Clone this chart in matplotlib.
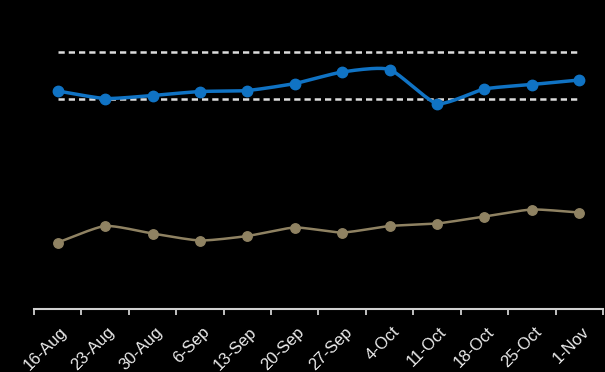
import numpy as np
import matplotlib
matplotlib.use("Agg")
import matplotlib.pyplot as plt
from matplotlib import transforms

# weekly readings
dates = ["16-Aug", "23-Aug", "30-Aug", "6-Sep", "13-Sep", "20-Sep",
         "27-Sep", "4-Oct", "11-Oct", "18-Oct", "25-Oct", "1-Nov"]
blue_vals = [4.36, 4.21, 4.27, 4.35, 4.37, 4.51, 4.74, 4.79, 4.11, 4.40, 4.49, 4.58]
tan_vals = [1.33, 1.66, 1.51, 1.37, 1.46, 1.63, 1.53, 1.66, 1.71, 1.85, 1.99, 1.93]
upper_band = [5.14] * len(dates)
lower_band = [4.21] * len(dates)

BLUE = "#1073c4"
TAN = "#8f8262"


def smooth(xs, ys, n=20, k=0.3):
    # cardinal spline through the points, mild tension like Excel smoothing
    xs = np.asarray(xs, float)
    ys = np.asarray(ys, float)
    px = np.concatenate([[2 * xs[0] - xs[1]], xs, [2 * xs[-1] - xs[-2]]])
    py = np.concatenate([[2 * ys[0] - ys[1]], ys, [2 * ys[-1] - ys[-2]]])
    t = np.linspace(0, 1, n, endpoint=False)
    h00 = 2 * t ** 3 - 3 * t ** 2 + 1
    h10 = t ** 3 - 2 * t ** 2 + t
    h01 = -2 * t ** 3 + 3 * t ** 2
    h11 = t ** 3 - t ** 2
    outx, outy = [], []
    for i in range(1, len(px) - 2):
        for p, out in ((px, outx), (py, outy)):
            m1 = k * (p[i + 1] - p[i - 1])
            m2 = k * (p[i + 2] - p[i])
            out.extend(h00 * p[i] + h10 * m1 + h01 * p[i + 1] + h11 * m2)
    outx.append(xs[-1])
    outy.append(ys[-1])
    return outx, outy


fig = plt.figure(figsize=(6.05, 3.72), dpi=100, facecolor="black")
ax = fig.add_axes([34 / 605, 63 / 372, 569 / 605, 289 / 372], facecolor="black")

x = np.arange(len(dates))

ax.plot(x, upper_band, color="#dcdcdc", lw=1.8, ls=(0, (2.5, 1.6)))
ax.plot(x, lower_band, color="#dcdcdc", lw=1.8, ls=(0, (2.5, 1.6)))

sx, sy = smooth(x, blue_vals)
ax.plot(sx, sy, color=BLUE, lw=2.5, solid_capstyle="round")
ax.plot(x, blue_vals, "o", color=BLUE, ms=7.5)

sx, sy = smooth(x, tan_vals)
ax.plot(sx, sy, color=TAN, lw=1.8, solid_capstyle="round")
ax.plot(x, tan_vals, "o", color=TAN, ms=6.8)

ax.set_xlim(-0.5, len(dates) - 0.5)
ax.set_ylim(0, 5.78)

for side in ("top", "right", "left"):
    ax.spines[side].set_visible(False)
ax.spines["bottom"].set_color("#d0d0d0")
ax.spines["bottom"].set_linewidth(1.5)
ax.set_yticks([])

# tick marks on category boundaries, labels at category centres
ax.set_xticks(np.arange(len(dates) + 1) - 0.5)
ax.set_xticklabels([])
ax.tick_params(axis="x", which="major", length=4, width=1.3, color="#d0d0d0")
ax.set_xticks(x, minor=True)
ax.set_xticklabels(dates, minor=True, rotation=45, ha="right", va="top",
                   rotation_mode="anchor", color="#ececec", fontsize=12,
                   family="Liberation Sans")
ax.tick_params(axis="x", which="minor", length=0, pad=11)
offset = transforms.ScaledTranslation(2 / 100, 0, fig.dpi_scale_trans)
for lab in ax.get_xticklabels(minor=True):
    lab.set_transform(lab.get_transform() + offset)

fig.savefig("out.png", dpi=100, facecolor="black")
